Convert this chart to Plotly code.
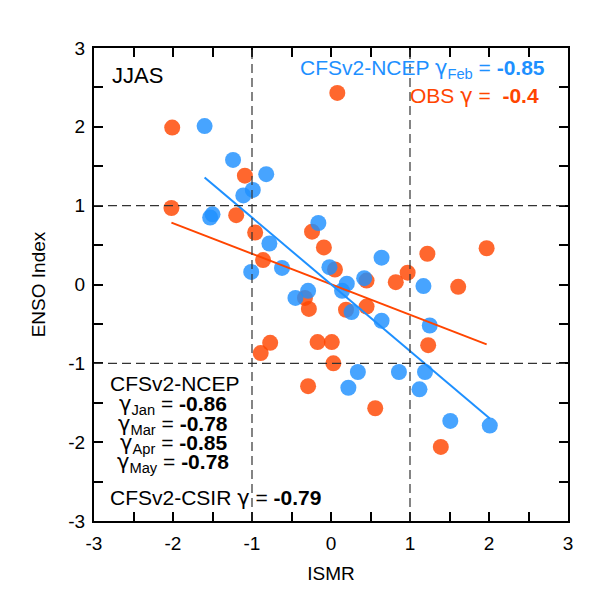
import numpy as np
import plotly.graph_objects as go

# ISMR vs ENSO index, JJAS
obs_ismr = [-2.01, 0.08, -1.09, -2.02, -1.20, -0.96, -0.86, -0.24, -0.09, 0.05,
            0.45, 0.82, 0.97, 1.22, 1.97, 1.61, -0.33, -0.28, 0.19, 0.45,
            1.23, -0.77, -0.89, -0.17, 0.01, 0.03, -0.29, 0.56, 1.39]
obs_enso = [1.99, 2.43, 1.38, 0.97, 0.88, 0.66, 0.31, 0.67, 0.47, 0.19,
            0.05, 0.03, 0.15, 0.39, 0.46, -0.03, -0.17, -0.31, -0.32, -0.28,
            -0.77, -0.74, -0.87, -0.73, -0.73, -1.00, -1.29, -1.57, -2.06]

ncep_ismr = [-1.60, -1.24, -0.82, -0.99, -1.11, -1.50, -1.53, -0.78, -0.16, -0.62,
             -1.01, -0.02, 0.64, 0.42, 0.20, 0.14, -0.29, -0.45, 0.26, 0.64,
             1.17, 1.25, 1.19, 0.86, 0.34, 0.22, 1.12, 1.51, 2.01]
ncep_enso = [2.01, 1.58, 1.40, 1.20, 1.13, 0.89, 0.85, 0.52, 0.78, 0.21,
             0.16, 0.22, 0.34, 0.08, 0.01, -0.08, -0.08, -0.17, -0.35, -0.46,
             -0.02, -0.52, -1.11, -1.11, -1.11, -1.31, -1.33, -1.73, -1.79]

tick_vals = [-3, -2, -1, 0, 1, 2, 3]
tick_text = ["-3", "-2", "-1", "0", "1", "2", "3"]

BLUE = "#1E90FF"
ORANGE = "#FF4500"
FONT = "Liberation Sans, Arial, Helvetica, sans-serif"
G = '<span style="font-family:DejaVu Sans">γ</span>'

fig = go.Figure()

# reference dashed lines at +/-1
for v in [-1, 1]:
    fig.add_vline(x=v, line=dict(color="#333", width=1.2, dash="9px,5px"))
    fig.add_hline(y=v, line=dict(color="#333", width=1.2, dash="9px,5px"))


def fit_line(x, y):
    x = np.array(x)
    y = np.array(y)
    m, c = np.polyfit(x, y, 1)
    xs = np.array([x.min(), x.max()])
    return xs, m * xs + c


for xs, ys, col in [(obs_ismr, obs_enso, ORANGE), (ncep_ismr, ncep_enso, BLUE)]:
    fig.add_trace(go.Scatter(x=xs, y=ys, mode="markers",
                             marker=dict(size=16, color=col, opacity=0.82,
                                         line=dict(width=0)),
                             showlegend=False))

for xs, ys, col in [(obs_ismr, obs_enso, ORANGE), (ncep_ismr, ncep_enso, BLUE)]:
    lx, ly = fit_line(xs, ys)
    fig.add_trace(go.Scatter(x=lx, y=ly, mode="lines",
                             line=dict(color=col, width=2), showlegend=False))

axis_common = dict(
    range=[-3, 3], tickvals=tick_vals, ticktext=tick_text,
    showgrid=False, zeroline=False,
    showline=True, linecolor="black", linewidth=2, mirror="allticks",
    ticks="inside", ticklen=9, tickwidth=1.5, tickcolor="black",
    minor=dict(dtick=0.5, ticks="inside", ticklen=9, tickwidth=1.5, tickcolor="black"),
    tickfont=dict(size=19, color="black", family=FONT),
)

fig.update_xaxes(**axis_common, ticklabelstandoff=4,
                 title=dict(text="ISMR", font=dict(size=19, family=FONT), standoff=14))
fig.update_yaxes(**axis_common, ticklabelstandoff=3,
                 title=dict(text="ENSO Index", font=dict(size=19, family=FONT), standoff=18))

notes = [
    (-2.8, 2.65, "JJAS", "left", "black", 22),
    (2.74, 2.73, f"CFSv2-NCEP {G}<sub>Feb</sub> = <b>-0.85</b>", "right", BLUE, 21),
    (2.66, 2.39, f"OBS {G} =  <b>-0.4</b>", "right", ORANGE, 21),
    (-2.82, -1.25, "CFSv2-NCEP", "left", "black", 21),
    (-2.0, -1.53, f"{G}<sub>Jan</sub> = <b>-0.86</b>", "center", "black", 21),
    (-2.0, -1.78, f"{G}<sub>Mar</sub> = <b>-0.78</b>", "center", "black", 21),
    (-2.0, -2.02, f"{G}<sub>Apr</sub> = <b>-0.85</b>", "center", "black", 21),
    (-2.0, -2.27, f"{G}<sub>May</sub> = <b>-0.78</b>", "center", "black", 21),
    (-2.82, -2.71, f"CFSv2-CSIR {G} = <b>-0.79</b>", "left", "black", 21),
]
for x, y, txt, anchor, col, size in notes:
    fig.add_annotation(x=x, y=y, text=txt, showarrow=False, xanchor=anchor,
                       yanchor="middle", font=dict(size=size, color=col, family=FONT))

fig.update_layout(
    width=607, height=603,
    margin=dict(l=86, r=47, t=40, b=90),
    plot_bgcolor="white", paper_bgcolor="white",
    font=dict(family=FONT, color="black"),
)

fig.write_html("out.html")
